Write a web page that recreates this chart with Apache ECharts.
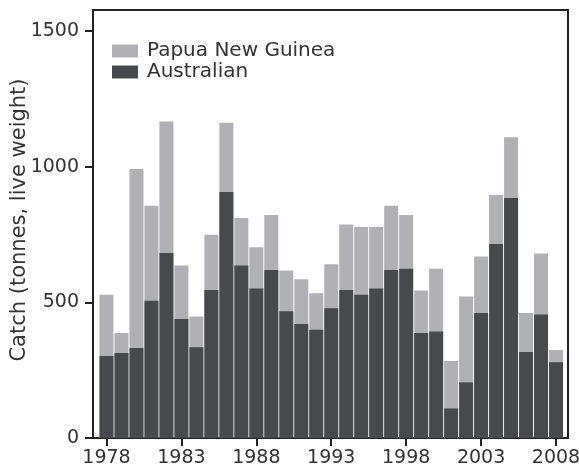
<!DOCTYPE html>
<html>
<head>
<meta charset="utf-8">
<script src="https://cdn.jsdelivr.net/npm/echarts@6/dist/echarts.min.js"></script>
<style>
  html, body { margin: 0; padding: 0; background: #fff; }
  #chart { width: 579px; height: 470px; }
</style>
</head>
<body>
<div id="chart"></div>
<script>
// Annual catch (tonnes, live weight), 1978-2008
const years = [1978, 1979, 1980, 1981, 1982, 1983, 1984, 1985, 1986, 1987,
               1988, 1989, 1990, 1991, 1992, 1993, 1994, 1995, 1996, 1997,
               1998, 1999, 2000, 2001, 2002, 2003, 2004, 2005, 2006, 2007, 2008];

// Australian catch
const australian = [302, 313, 332, 506, 682, 439, 335, 546, 907, 636,
                    551, 619, 467, 420, 399, 478, 546, 528, 551, 619,
                    624, 387, 393, 109, 205, 461, 715, 885, 317, 455, 279];

// Papua New Guinea catch
const papuaNewGuinea = [226, 74, 660, 350, 485, 197, 113, 203, 255, 175,
                        152, 203, 151, 165, 135, 163, 241, 250, 227, 237,
                        198, 157, 231, 175, 317, 208, 181, 224, 144, 225, 45];

const yTicks = [0, 500, 1000, 1500];
const xTicks = [1978, 1983, 1988, 1993, 1998, 2003, 2008];

const FONT = 'DejaVu Sans';
const TEXT = '#333';
const AXIS = '#222';
const DARK = '#48494c';
const LIGHT = '#b1b1b5';

// The light bar shows the combined catch; the Australian bar is laid over
// its lower part, so the visible light segment is the PNG catch.
const combined = australian.map((a, i) => a + papuaNewGuinea[i]);

const chart = echarts.init(document.getElementById('chart'), null, { renderer: 'canvas' });

chart.setOption({
  animation: false,
  backgroundColor: '#fff',
  grid: {
    left: 93, right: 11, top: 10, bottom: 32,
    containLabel: false,
    outerBoundsMode: 'none',
    show: true,
    borderColor: AXIS,
    borderWidth: 2,
    backgroundColor: 'transparent'
  },
  legend: {
    orient: 'vertical',
    left: 107,
    top: 36,
    itemWidth: 26,
    itemHeight: 13,
    itemGap: 1,
    icon: 'rect',
    data: [
      { name: 'Papua New Guinea', itemStyle: { color: LIGHT } },
      { name: 'Australian', itemStyle: { color: DARK } }
    ],
    textStyle: {
      fontFamily: FONT,
      fontSize: 20,
      color: TEXT,
      lineHeight: 16,
      padding: [0, 0, 0, 4]
    }
  },
  xAxis: {
    type: 'value',
    min: 1977.1,
    max: 2008.8,
    splitLine: { show: false },
    axisLine: { show: true, onZero: false, lineStyle: { color: AXIS, width: 2 } },
    axisTick: { show: true, length: 8, customValues: xTicks, lineStyle: { color: AXIS, width: 2 } },
    axisLabel: {
      customValues: xTicks,
      fontFamily: FONT,
      fontSize: 19,
      color: TEXT,
      margin: 11,
      formatter: v => String(v)
    }
  },
  yAxis: {
    type: 'value',
    min: 0,
    max: 1578,
    name: 'Catch (tonnes, live weight)',
    nameLocation: 'middle',
    nameRotate: 90,
    nameGap: 63,
    nameMoveOverlap: false,
    nameTextStyle: { fontFamily: FONT, fontSize: 21, color: TEXT, padding: [0, 0, 0, 8] },
    splitLine: { show: false },
    axisLine: { show: true, lineStyle: { color: AXIS, width: 2 } },
    axisTick: { show: true, length: 8, customValues: yTicks, lineStyle: { color: AXIS, width: 2 } },
    axisLabel: {
      customValues: yTicks,
      fontFamily: FONT,
      fontSize: 19,
      color: TEXT,
      margin: 14,
      formatter: v => String(v)
    }
  },
  series: [
    {
      name: 'Papua New Guinea',
      type: 'bar',
      barWidth: 14,
      barGap: '-100%',
      itemStyle: { color: LIGHT },
      data: years.map((y, i) => [y, combined[i]])
    },
    {
      name: 'Australian',
      type: 'bar',
      barWidth: 14,
      barGap: '-100%',
      itemStyle: { color: DARK },
      data: years.map((y, i) => [y, australian[i]])
    }
  ]
});
</script>
</body>
</html>
